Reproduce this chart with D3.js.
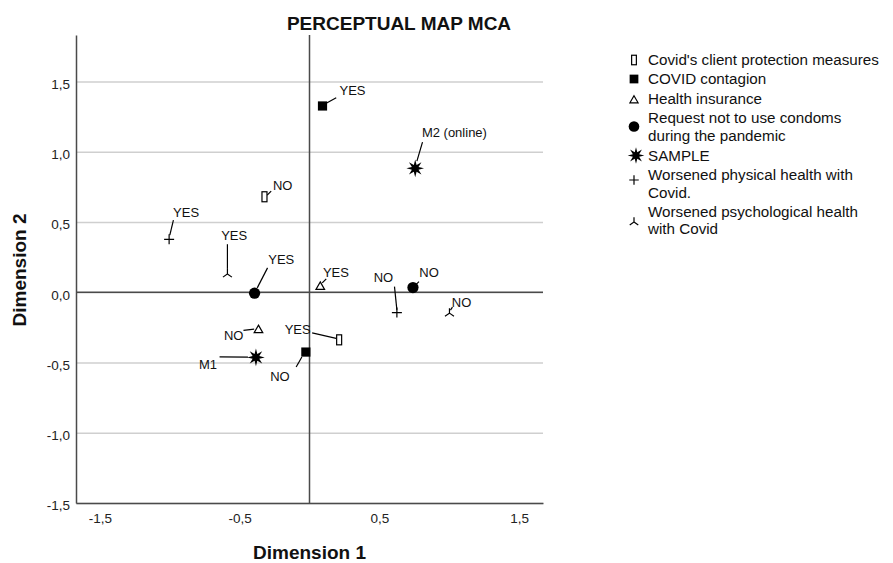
<!DOCTYPE html>
<html>
<head>
<meta charset="utf-8">
<script src="https://cdn.jsdelivr.net/npm/d3@7"></script>
<style>
  html, body { margin: 0; padding: 0; background: #fff; }
  svg { display: block; font-family: "Liberation Sans", Arial, sans-serif; }
</style>
</head>
<body>
<svg id="chart" width="893" height="563"></svg>
<script>
// ---------------- DATA ----------------
const chartTitle = "PERCEPTUAL MAP MCA";
const xTitle = "Dimension 1";
const yTitle = "Dimension 2";
const categories = [
  "Covid's client protection measures",
  "COVID contagion",
  "Health insurance",
  "Request not to use condoms during the pandemic",
  "SAMPLE",
  "Worsened physical health with Covid.",
  "Worsened psychological health with Covid"
];
const legendLines = [
  ["Covid's client protection measures"],
  ["COVID contagion"],
  ["Health insurance"],
  ["Request not to use condoms", "during the pandemic"],
  ["SAMPLE"],
  ["Worsened physical health with", "Covid."],
  ["Worsened psychological health", "with Covid"]
];
const pointLabels = [
  ["NO", "YES"],
  ["YES", "NO"],
  ["YES", "NO"],
  ["YES", "NO"],
  ["M2 (online)", "M1"],
  ["YES", "NO"],
  ["YES", "NO"]
];
const dim1 = [
  [-0.322, 0.212],
  [0.093, -0.026],
  [0.077, -0.365],
  [-0.393, 0.740],
  [0.756, -0.383],
  [-1.004, 0.625],
  [-0.587, 1.001]
];
const dim2 = [
  [0.679, -0.339],
  [1.325, -0.426],
  [0.045, -0.263],
  [-0.007, 0.033],
  [0.881, -0.464],
  [0.376, -0.145],
  [0.130, -0.149]
];
const xTicks = [-1.5, -0.5, 0.5, 1.5];
const yTicks = [-1.5, -1.0, -0.5, 0.0, 0.5, 1.0, 1.5];
const xDomain = [-1.67, 1.67];
const yDomain = [-1.5, 1.83];

// ---------------- LAYOUT (label placement, px relative to marker) ----------------
// [textDx, textDy, anchor, leaderX1, leaderY1, leaderX2, leaderY2]
const labelLayout = [
  [[8.4, -6.7, "start", 2.7, -1.7, 6.7, -5.7], [-28.5, -6, "end", -27, -7, -3, -1.5]],
  [[17, -10.7, "start", 3.7, -2.7, 13.7, -8.2], [-16.2, 28.7, "end", -4, 5, -9.7, 15]],
  [[2.7, -9.3, "start", 2, -3, 6, -7], [-15, 10.7, "end", -15, 1.2, -4.3, 0]],
  [[13.7, -29.3, "start", 2.7, -5.3, 13, -25.3], [6.3, -10.7, "start", 3, -3, 6, -6]],
  [[6.7, -31.6, "start", 1.7, -7.3, 7.3, -26.3], [-39, 11.3, "end", -36.4, -0.5, -8, -0.3]],
  [[4, -22.6, "start", 0.7, -4.3, 4.3, -19.3], [-3.7, -30.7, "end", -2.4, -26, 0, -2.7]],
  [[-6.3, -34, "start", 0, -29.7, 0, -5], [2.4, -6.3, "start", 1, -3, 3, -6]]
];

// ---------------- DRAW ----------------
const svg = d3.select("#chart");
const x = d3.scaleLinear().domain(xDomain).range([76, 543]);
const y = d3.scaleLinear().domain(yDomain).range([503, 35]);
const loc = d3.formatLocale({decimal: ",", thousands: ".", grouping: [3], currency: ["", ""], minus: "-"});
const fmt = loc.format(".1f");

// gridlines
svg.append("g")
  .attr("transform", `translate(${x.range()[0]},0)`)
  .call(d3.axisLeft(y).tickValues(yTicks).tickSize(-(x.range()[1] - x.range()[0])).tickFormat(""))
  .call(g => g.select(".domain").remove())
  .call(g => g.selectAll(".tick line").attr("stroke", "#cfcfcf").attr("stroke-width", 1.5));

// zero reference lines
svg.append("line")
  .attr("x1", x(0)).attr("x2", x(0)).attr("y1", y.range()[0]).attr("y2", y.range()[1])
  .attr("stroke", "#4a4a4a").attr("stroke-width", 1.5);
svg.append("line")
  .attr("x1", x.range()[0]).attr("x2", x.range()[1]).attr("y1", y(0)).attr("y2", y(0))
  .attr("stroke", "#4a4a4a").attr("stroke-width", 1.5);

// axes
const xAxis = svg.append("g")
  .attr("transform", `translate(0,${y.range()[0]})`)
  .call(d3.axisBottom(x).tickValues(xTicks).tickSize(0).tickSizeOuter(0).tickPadding(10).tickFormat(fmt));
const yAxis = svg.append("g")
  .attr("transform", `translate(${x.range()[0]},0)`)
  .call(d3.axisLeft(y).tickValues(yTicks).tickSize(0).tickSizeOuter(0).tickPadding(6).tickFormat(fmt));
[xAxis, yAxis].forEach(g => {
  g.select(".domain").attr("stroke", "#4a4a4a").attr("stroke-width", 1.5);
  g.selectAll(".tick text")
    .attr("font-family", "Liberation Sans, Arial, sans-serif")
    .attr("font-size", 13.5).attr("fill", "#222");
});
yAxis.selectAll(".tick text").attr("y", 2.5);

// titles
svg.append("text").attr("x", 399).attr("y", 29.5).attr("text-anchor", "middle")
  .attr("font-size", 19).attr("font-weight", "bold").attr("fill", "#111").text(chartTitle);
svg.append("text").attr("x", (x.range()[0] + x.range()[1]) / 2).attr("y", 559).attr("text-anchor", "middle")
  .attr("font-size", 19).attr("font-weight", "bold").attr("fill", "#111").text(xTitle);
svg.append("text").attr("transform", `translate(26,${(y.range()[0] + y.range()[1]) / 2 + 1}) rotate(-90)`)
  .attr("text-anchor", "middle")
  .attr("font-size", 19).attr("font-weight", "bold").attr("fill", "#111").text(yTitle);

// marker drawing
function starPath(R, r) {
  const pts = [];
  for (let k = 0; k < 16; k++) {
    const a = -Math.PI / 2 + k * Math.PI / 8;
    const rad = k % 2 === 0 ? R : r;
    pts.push([rad * Math.cos(a), rad * Math.sin(a)]);
  }
  return "M" + pts.map(p => p[0].toFixed(2) + "," + p[1].toFixed(2)).join("L") + "Z";
}
function drawMarker(g, ci, s) {
  s = s || 1;
  if (ci === 0) {
    g.append("rect").attr("x", -2.5 * s).attr("y", -5 * s).attr("width", 5 * s).attr("height", 10 * s)
      .attr("fill", "#fff").attr("stroke", "#000").attr("stroke-width", 1.2);
  } else if (ci === 1) {
    g.append("rect").attr("x", -4.6 * s).attr("y", -4.6 * s).attr("width", 9.2 * s).attr("height", 9.2 * s)
      .attr("fill", "#000");
  } else if (ci === 2) {
    g.append("path").attr("d", `M0,${-4 * s}L${4.3 * s},${3.5 * s}L${-4.3 * s},${3.5 * s}Z`)
      .attr("fill", "#fff").attr("stroke", "#000").attr("stroke-width", 1.2);
  } else if (ci === 3) {
    g.append("circle").attr("r", 5.6 * s).attr("fill", "#000");
  } else if (ci === 4) {
    g.append("path").attr("d", starPath(8.8 * s, 3.6 * s)).attr("fill", "#000");
  } else if (ci === 5) {
    g.append("path").attr("d", `M${-5 * s},0H${5 * s}M0,${-5 * s}V${5 * s}`)
      .attr("fill", "none").attr("stroke", "#000").attr("stroke-width", 1.2);
  } else if (ci === 6) {
    g.append("path").attr("d", `M0,${-5 * s}V0L${-4.5 * s},${3.2 * s}M0,0L${4.5 * s},${3.2 * s}`)
      .attr("fill", "none").attr("stroke", "#000").attr("stroke-width", 1.2);
  }
}

// points, leaders, labels
const pts = svg.append("g");
categories.forEach((cat, ci) => {
  dim1[ci].forEach((vx, j) => {
    const px = x(vx), py = y(dim2[ci][j]);
    const L = labelLayout[ci][j];
    pts.append("line")
      .attr("x1", px + L[3]).attr("y1", py + L[4]).attr("x2", px + L[5]).attr("y2", py + L[6])
      .attr("stroke", "#000").attr("stroke-width", 1.2);
    const g = pts.append("g").attr("transform", `translate(${px},${py})`);
    drawMarker(g, ci, 1);
    pts.append("text").attr("x", px + L[0]).attr("y", py + L[1]).attr("text-anchor", L[2])
      .attr("font-size", 13).attr("fill", "#111").text(pointLabels[ci][j]);
  });
});

// legend
const legendBaselines = [65, 84, 104.4, 123.3, 161, 180.3, 216.9];
const legendLineStep = 17.5;
const legendMarkerY = [60, 79, 99.5, 126.5, 155.5, 180, 222];
const leg = svg.append("g");
legendLines.forEach((lines, ci) => {
  const g = leg.append("g").attr("transform", `translate(${ci === 4 ? 636 : 634},${legendMarkerY[ci]})`);
  drawMarker(g, ci, 0.95);
  lines.forEach((line, k) => {
    leg.append("text").attr("x", 648).attr("y", legendBaselines[ci] + k * legendLineStep)
      .attr("font-size", 15.2).attr("fill", "#111").text(line);
  });
});
</script>
</body>
</html>
